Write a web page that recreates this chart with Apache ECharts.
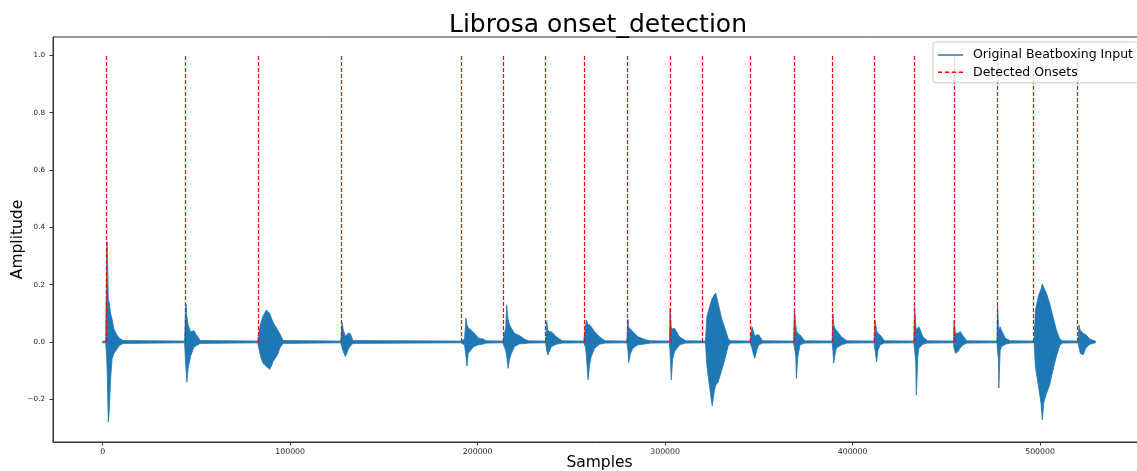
<!DOCTYPE html>
<html>
<head>
<meta charset="utf-8">
<script src="https://cdn.jsdelivr.net/npm/echarts@6/dist/echarts.min.js"></script>
<style>
  html, body { margin: 0; padding: 0; background: #fff; }
  #chart { width: 1137px; height: 471px; }
</style>
</head>
<body>
<div id="chart"></div>
<script>
// waveform envelope, one line per burst
const sampleIdx = [
  0, 1600, 2100, 2400, 3000, 3500, 4200, 5000, 6000, 7500, 9000, 11000,
  43700, 44100, 44500, 44900, 45600, 46900, 48500, 50000, 52000,
  82667, 83200, 84267, 85500, 87300, 89070, 90000, 90830, 91730, 92640, 93870, 94400, 96160,
  127000, 127700, 128400, 129500, 131000, 132000, 133500,
  191000, 193000, 193800, 194300, 195000, 196300, 198000, 200500, 203000, 204500,
  213400, 215000, 215500, 216200, 217000, 218000, 219700, 222400, 225000, 227000,
  236300, 236800, 237500, 238500, 239300, 242000, 245000,
  256600, 257600, 258000, 258900, 259700, 260600, 262400, 265000, 268000,
  279600, 280200, 280600, 281500, 282800, 285500, 289000, 292000,
  302300, 302600, 303300, 304000, 305000, 307700, 311000,
  321500, 322300, 323700, 325100, 326300, 327000, 328300, 330100, 331900, 333700, 335000,
  345300, 346300, 347000, 347800, 349000, 350000, 352000,
  368500, 369000, 369700, 370000, 370800, 372000, 374500,
  389100, 389500, 389900, 390700, 391300, 394000, 397000,
  411400, 412000, 412800, 413500, 414700, 417000,
  432600, 433100, 433700, 434000, 434800, 435400, 437500, 440000,
  453800, 454100, 454900, 456000, 457500, 459000, 461000,
  477000, 477300, 477800, 478000, 478700, 479500, 481500, 484000,
  496800, 497500, 499300, 500500, 501200, 502000, 503400, 505100, 506900, 508700, 510500, 512000,
  520200, 520800, 521500, 523000, 524500, 526500, 529500
];
const envUpper = [
  .003, .003, .30, .35, .15, .137, .10, .079, .045, .025, .012, .005,
  .003, .10, .132, .09, .06, .035, .04, .025, .005,
  .003, .03, .065, .09, .111, .10, .083, .07, .059, .05, .036, .03, .005,
  .003, .067, .04, .02, .03, .03, .005,
  .003, .01, .083, .06, .05, .042, .032, .013, .01, .004,
  .003, .05, .129, .08, .06, .048, .03, .022, .01, .004,
  .003, .074, .04, .036, .036, .018, .004,
  .003, .06, .077, .06, .06, .053, .036, .018, .004,
  .003, .079, .05, .045, .036, .018, .009, .004,
  .003, .117, .05, .045, .048, .018, .004,
  .003, .088, .123, .152, .165, .17, .135, .083, .048, .01, .004,
  .003, .053, .04, .02, .025, .024, .004,
  .003, .117, .06, .04, .03, .024, .004,
  .003, .098, .06, .045, .042, .018, .004,
  .003, .077, .04, .03, .024, .004,
  .003, .123, .06, .04, .05, .053, .018, .004,
  .003, .073, .03, .03, .036, .02, .004,
  .003, .129, .06, .04, .053, .04, .013, .004,
  .003, .111, .164, .185, .202, .19, .17, .135, .088, .042, .01, .004,
  .003, .059, .04, .03, .025, .01, .003
];
const envLower = [
  -.003, -.003, -.05, -.10, -.28, -.24, -.13, -.06, -.04, -.025, -.012, -.005,
  -.003, -.06, -.10, -.14, -.09, -.05, -.02, -.012, -.005,
  -.003, -.02, -.051, -.074, -.086, -.095, -.085, -.069, -.06, -.051, -.035, -.022, -.005,
  -.003, -.02, -.035, -.051, -.025, -.015, -.005,
  -.003, -.01, -.05, -.084, -.04, -.028, -.016, -.01, -.007, -.004,
  -.003, -.03, -.05, -.092, -.06, -.04, -.016, -.006, -.006, -.004,
  -.003, -.03, -.045, -.03, -.016, -.008, -.004,
  -.003, -.02, -.05, -.132, -.08, -.051, -.022, -.008, -.004,
  -.003, -.03, -.072, -.04, -.022, -.01, -.007, -.004,
  -.003, -.03, -.132, -.06, -.034, -.01, -.004,
  -.003, -.086, -.156, -.223, -.17, -.15, -.14, -.10, -.06, -.012, -.004,
  -.003, -.02, -.04, -.057, -.025, -.01, -.004,
  -.003, -.02, -.05, -.127, -.05, -.01, -.004,
  -.003, -.03, -.074, -.04, -.022, -.01, -.004,
  -.003, -.03, -.069, -.03, -.01, -.004,
  -.003, -.03, -.07, -.185, -.05, -.022, -.008, -.004,
  -.003, -.02, -.04, -.035, -.02, -.01, -.004,
  -.003, -.03, -.06, -.161, -.03, -.016, -.008, -.004,
  -.003, -.086, -.161, -.214, -.272, -.21, -.18, -.15, -.098, -.05, -.012, -.004,
  -.003, -.02, -.04, -.045, -.02, -.008, -.003
];

const onsetSamples = [1900, 43800, 82700, 127200, 190900, 213600, 236100, 256500, 279600, 302400,
  319800, 345400, 368500, 388900, 411400, 432500, 453900, 476900, 496200, 519800];
const onsetRange = [0, 1];

const xTicks = [0, 100000, 200000, 300000, 400000, 500000];
const yTicks = [-0.2, 0, 0.2, 0.4, 0.6, 0.8, 1.0];

const BLUE = '#1f77b4';
const RED = '#ff0000';
const FONT = 'DejaVu Sans';

const chart = echarts.init(document.getElementById('chart'));

const waveData = sampleIdx.map((s, i) => [s, envUpper[i], envLower[i]]);

chart.setOption({
  animation: false,
  textStyle: { fontFamily: FONT },
  title: {
    text: 'Librosa onset_detection',
    left: 449,
    top: 13,
    padding: 0,
    textStyle: { fontFamily: FONT, fontSize: 25, fontWeight: 'normal', color: '#000' }
  },
  legend: {
    orient: 'vertical',
    left: 933,
    top: 42,
    padding: [6.5, 5, 4, 5],
    itemWidth: 25,
    itemHeight: 14,
    itemGap: 4.3,
    backgroundColor: 'rgba(255,255,255,0.8)',
    borderColor: '#cccccc',
    borderWidth: 1,
    borderRadius: 3,
    textStyle: { fontFamily: FONT, fontSize: 12.5, color: '#000', padding: [0, 0, 0, 5] },
    data: [
      { name: 'Original Beatboxing Input', icon: 'path://M0,0H25V1.5H0Z' },
      { name: 'Detected Onsets', icon: 'path://M0,0H4V1.5H0Z M6.5,0H10.5V1.5H6.5Z M13,0H17V1.5H13Z M19.5,0H23.5V1.5H19.5Z' }
    ]
  },
  grid: {
    left: 53, top: 37, right: -9, bottom: 29,
    outerBoundsMode: 'none',
    containLabel: false,
    show: true, borderColor: '#333', borderWidth: 1, backgroundColor: 'transparent'
  },
  xAxis: {
    type: 'value',
    min: -26500,
    max: 556500,
    name: 'Samples',
    nameLocation: 'middle',
    nameGap: 13,
    nameMoveOverlap: false,
    nameTextStyle: { fontFamily: FONT, fontSize: 15.5, color: '#000', verticalAlign: 'top' },
    axisLine: { show: true, onZero: false, lineStyle: { color: '#333', width: 1 } },
    axisTick: { show: true, length: 3.5, lineStyle: { color: '#333' }, customValues: xTicks },
    axisLabel: { fontFamily: FONT, fontSize: 7.8, color: '#222', margin: 6, customValues: xTicks,
      formatter: v => String(v) },
    splitLine: { show: false }
  },
  yAxis: {
    type: 'value',
    min: -0.349,
    max: 1.064,
    name: 'Amplitude',
    nameLocation: 'middle',
    nameGap: 27,
    nameMoveOverlap: false,
    nameTextStyle: { fontFamily: FONT, fontSize: 15.5, color: '#000' },
    axisLine: { show: true, onZero: false, lineStyle: { color: '#333', width: 1 } },
    axisTick: { show: true, length: 3.5, lineStyle: { color: '#333' }, customValues: yTicks },
    axisLabel: { fontFamily: FONT, fontSize: 7.2, color: '#222', margin: 8, customValues: yTicks,
      formatter: v => v.toFixed(1).replace('-', '\u2212') },
    splitLine: { show: false }
  },
  series: [
    {
      type: 'custom',
      name: 'Original Beatboxing Input',
      itemStyle: { color: BLUE },
      data: waveData,
      encode: { x: 0, y: [1, 2] },
      renderItem: (params, api) => {
        if (params.dataIndex !== 0) return null;
        const pts = [];
        for (let i = 0; i < waveData.length; i++) pts.push(api.coord([waveData[i][0], waveData[i][1]]));
        for (let i = waveData.length - 1; i >= 0; i--) pts.push(api.coord([waveData[i][0], waveData[i][2]]));
        return {
          type: 'polygon',
          shape: { points: pts },
          style: { fill: BLUE, stroke: BLUE, lineWidth: 0.8, lineJoin: 'round' }
        };
      },
      z: 2
    },
    {
      type: 'custom',
      name: 'Detected Onsets',
      itemStyle: { color: RED },
      data: onsetSamples.map(s => [s, onsetRange[0], onsetRange[1]]),
      encode: { x: 0, y: [1, 2] },
      renderItem: (params, api) => {
        const p0 = api.coord([api.value(0), api.value(1)]);
        const p1 = api.coord([api.value(0), api.value(2)]);
        return {
          type: 'line',
          shape: { x1: Math.round(p0[0]) + 0.5, y1: p0[1], x2: Math.round(p1[0]) + 0.5, y2: p1[1] },
          style: { stroke: RED, lineWidth: 1.2, lineDash: [4, 2] }
        };
      },
      z: 3
    }
  ]
});
</script>
</body>
</html>
